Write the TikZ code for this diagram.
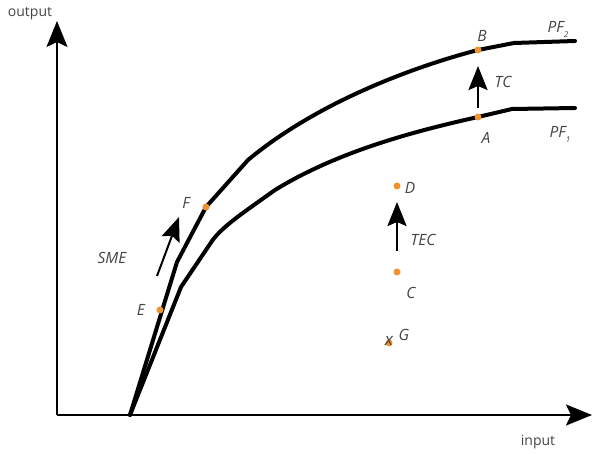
\documentclass[tikz,border=0pt]{standalone}
\usepackage{fontspec}
\setmainfont{Open Sans}
\usetikzlibrary{positioning}
\usetikzlibrary{arrows.meta}
\definecolor{dotorange}{HTML}{F0922E}
\definecolor{txtgray}{HTML}{444444}
\tikzset{axis/.style = {line width=2pt,
                        -{Stealth[length=26pt,width=21pt,inset=5pt]}}}
\tikzset{frontier/.style = {line width=4pt, line join=round, line cap=round}}
\tikzset{shift arrow/.style = {line width=2.5pt,
                               -{Stealth[length=24pt,width=19pt,inset=4pt]}}}
\tikzset{pt/.style = {fill=dotorange, circle, inner sep=0, minimum size=7pt}}
\tikzset{lbl/.style = {text=txtgray, font=\itshape\fontsize{15.5}{15.5}\selectfont, inner sep=1pt}}
\tikzset{every picture/.style={x=1pt, y=-1pt}}

\begin{document}
\begin{tikzpicture}
      \useasboundingbox (0,0) rectangle (595,454);
      % axes
      \coordinate (o) at (57,415);
      \coordinate (ytip) at (57,21);
      \coordinate (xtip) at (592,415);
      \draw[axis] (o) -- (ytip);
      \draw[axis] (o) -- (xtip);
      \node[lbl, font=\fontsize{14}{14}\selectfont] (out) at (30,14) {output};
      \node[lbl, font=\fontsize{14}{14}\selectfont] (in) at (538,442) {input};
      % frontiers
      \coordinate (s) at (130,415);
      \draw[frontier] (s) -- (177,262) -- (206,207) -- (248,160)
        .. controls (320,100) and (420,65) .. (478,50) -- (514,43) -- (575,41);
      \draw[frontier] (s) -- (181,287) -- (210,244)
        .. controls (220,228) and (240,215) .. (275,190)
        .. controls (340,150) and (420,130) .. (478,117) -- (512,109) -- (575,108);
      % points
      \node[pt] (b) at (478,50) {};
      \node[pt] (a) at (478,117) {};
      \node[pt] (d) at (397,186) {};
      \node[pt] (c) at (397,272) {};
      \node[pt] (f) at (206,207) {};
      \node[pt] (e) at (160,310) {};
      \node[pt] (g) at (389,343) {};
      \node[lbl, font=\itshape\fontsize{17}{17}\selectfont] (gx) at (389,341) {x};
      % labels
      \node[lbl] (lb) at (482,36) {B};
      \node[lbl] (lpf2) at (558,29) {PF\raisebox{-0.6ex}{\fontsize{8}{8}\selectfont 2}};
      \node[lbl] (la) at (486,138) {A};
      \node[lbl] (lpf1) at (560,134) {PF\raisebox{-0.6ex}{\fontsize{8}{8}\selectfont 1}};
      \node[lbl] (ld) at (410,188) {D};
      \node[lbl] (lc) at (411,293) {C};
      \node[lbl] (lg) at (404,335) {G};
      \node[lbl] (lf) at (186,203) {F};
      \node[lbl] (le) at (141,310) {E};
      % shifts
      \coordinate (tc0) at (478,108);
      \coordinate (tc1) at (478,66);
      \draw[shift arrow] (tc0) -- (tc1);
      \node[lbl] (ltc) at (503,82) {TC};
      \coordinate (tec0) at (397,251);
      \coordinate (tec1) at (397,202);
      \draw[shift arrow] (tec0) -- (tec1);
      \node[lbl] (ltec) at (423,240) {TEC};
      \coordinate (sme0) at (157,276);
      \coordinate (sme1) at (179,217);
      \draw[shift arrow, line width=2pt] (sme0) -- (sme1);
      \node[lbl] (lsme) at (112,258) {SME};
\end{tikzpicture}
\end{document}
